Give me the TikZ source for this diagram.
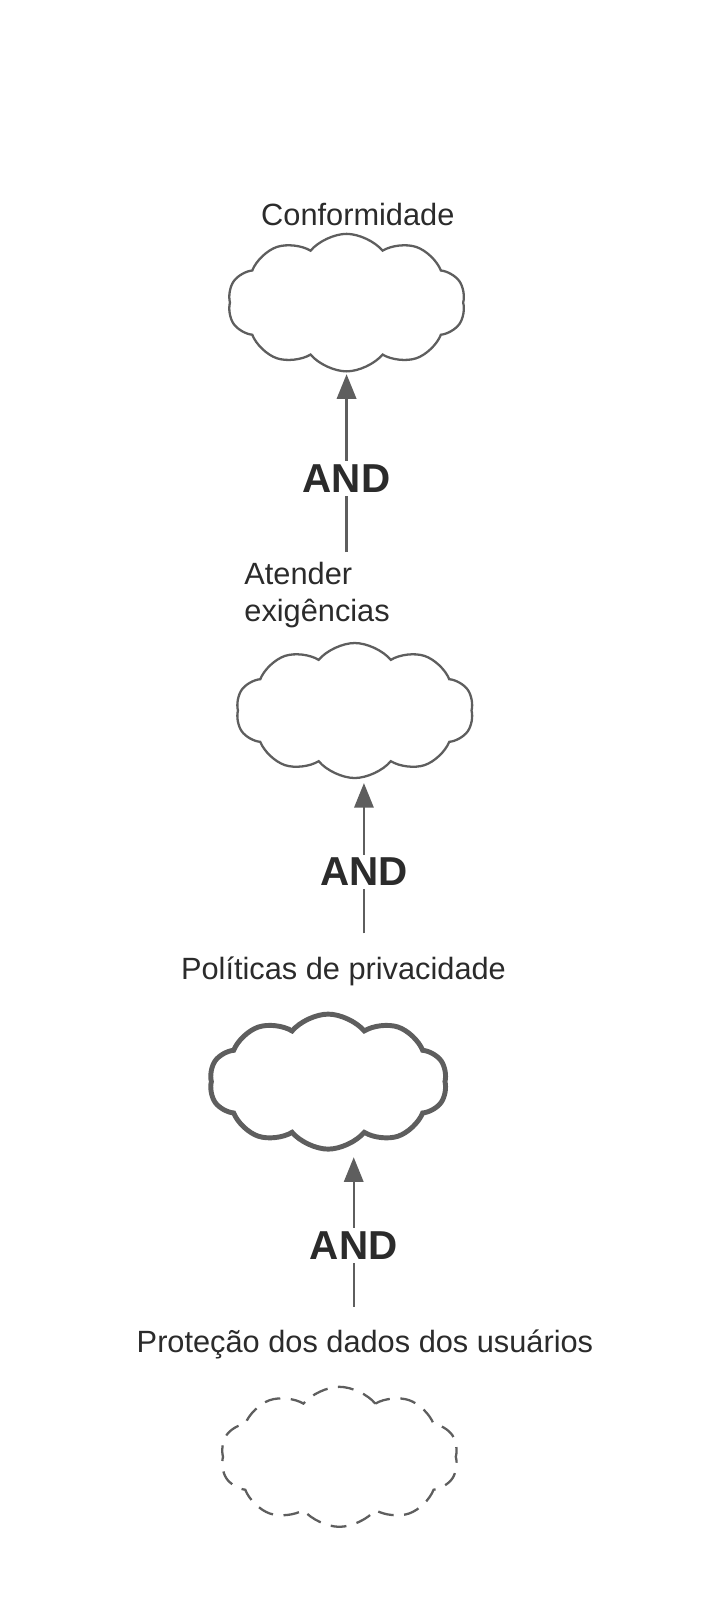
\documentclass[tikz,border=0pt]{standalone}
\usepackage{fontspec}
\setmainfont{Liberation Sans}
\usetikzlibrary{shapes.symbols,arrows.meta}
\definecolor{ln}{HTML}{5E5E5E}
\definecolor{tx}{HTML}{2B2B2B}
\tikzset{
  cl/.style={cloud,cloud puffs=10,cloud puff arc=100,aspect=1.8,draw=ln,line width=1.3pt,inner sep=0pt},
  lbl/.style={text=tx,font=\fontsize{17.5}{21.5}\selectfont},
  andl/.style={text=tx,fill=white,font=\fontsize{23}{25}\selectfont\bfseries,inner sep=2pt},
  arr/.style={draw=ln,line width=1.3pt,-{Triangle[length=14pt,width=11pt]}}
}
\begin{document}
\begin{tikzpicture}[x=0.02045cm,y=-0.02045cm]
\useasboundingbox (0,0) rectangle (14.28cm,-32cm);
\node[cl,minimum width=4.75cm,minimum height=2.75cm] (c1) at (339,296) {};
\node[cl,minimum width=4.75cm,minimum height=2.7cm] (c2) at (347,695) {};
\node[cl,line width=2.8pt,minimum width=4.75cm,minimum height=2.7cm] (c3) at (321,1058) {};
\node[cl,dashed,dash pattern=on 9pt off 6pt,minimum width=4.75cm,minimum height=2.8cm] (c4) at (332,1425) {};
\node[lbl] (t1) at (350,210) {Conformidade};
\node[lbl,align=left,anchor=west] (t2) at (233,582) {Atender\\exigências};
\node[lbl] (t3) at (336,950) {Políticas de privacidade};
\node[lbl] (t4) at (357,1315) {Proteção dos dados dos usuários};
\coordinate (s1) at (339,540);
\coordinate (e1) at (339,366);
\coordinate (s2) at (356,913);
\coordinate (e2) at (356,766);
\coordinate (s3) at (346,1278);
\coordinate (e3) at (346,1132);
\draw[arr] (s1) -- (e1);
\draw[arr] (s2) -- (e2);
\draw[arr] (s3) -- (e3);
\node[andl] (a1) at (339,468) {AND};
\node[andl] (a2) at (356,853) {AND};
\node[andl] (a3) at (346,1218) {AND};
\end{tikzpicture}
\end{document}
